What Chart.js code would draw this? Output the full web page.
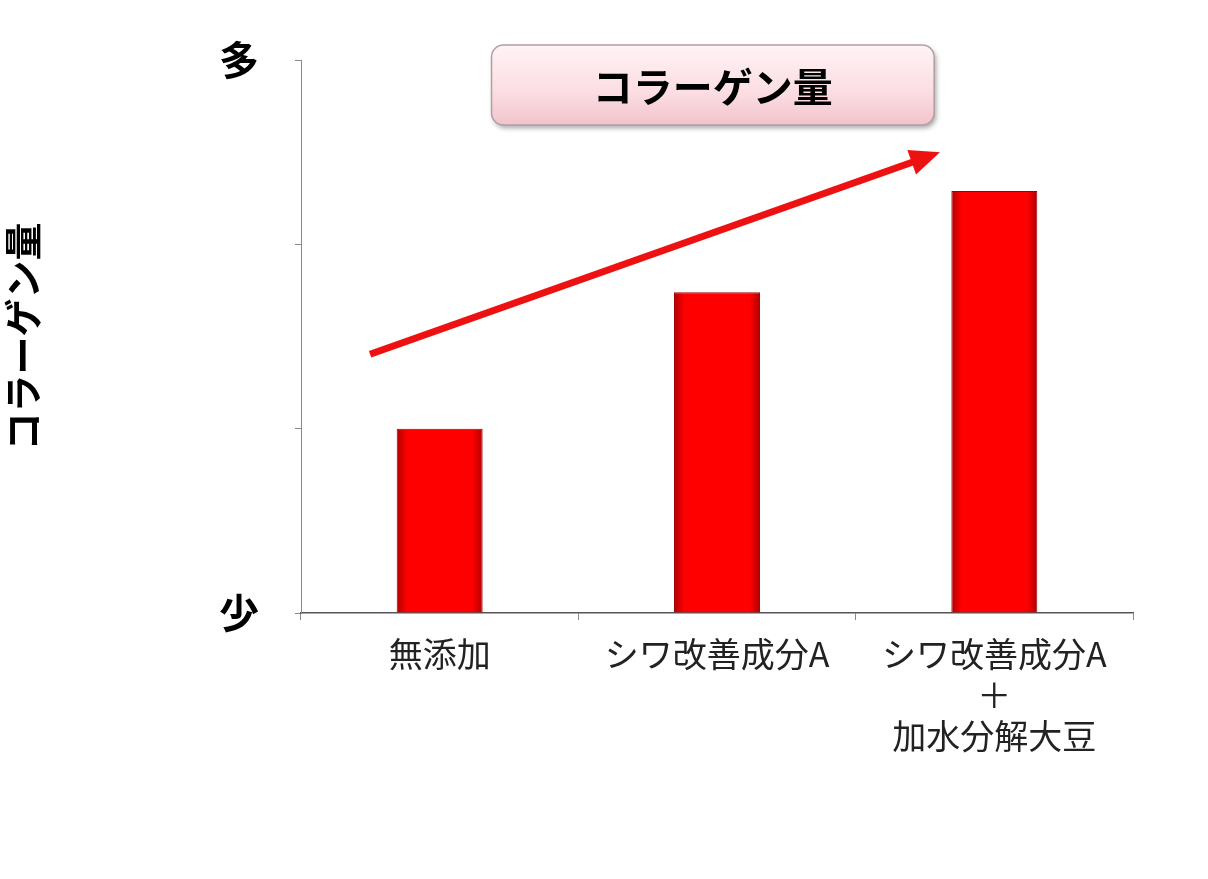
<!DOCTYPE html>
<html><head><meta charset="utf-8">
<script src="https://cdn.jsdelivr.net/npm/chart.js@4"></script>
<style>html,body{margin:0;background:#fff}#c{display:block}</style>
</head><body>
<canvas id="c" width="1208" height="879"></canvas>
<script>
const categories = [['無添加'], ['シワ改善成分A'], ['シワ改善成分A', '＋', '加水分解大豆']];
const collagen = [1.0, 1.74, 2.29];
const yTickLabels = { 0: '少', 3: '多' };
const titleText = 'コラーゲン量';
const axisTitle = 'コラーゲン量';
const JP = '"Noto Sans CJK JP", "Noto Sans", sans-serif';

const decor = {
  id: 'decor',
  afterDraw(chart) {
    const ctx = chart.ctx, a = chart.chartArea;
    const w = a.right - a.left, h = a.bottom - a.top;
    // arrow
    const x1 = a.left + w * 0.083, y1 = a.top + h * 0.532;
    const x2 = a.left + w * 0.768, y2 = a.top + h * 0.167;
    const ang = Math.atan2(y2 - y1, x2 - x1);
    ctx.save();
    ctx.strokeStyle = '#ee1111'; ctx.fillStyle = '#ee1111'; ctx.lineWidth = 7;
    ctx.beginPath(); ctx.moveTo(x1, y1);
    ctx.lineTo(x2 - 22 * Math.cos(ang), y2 - 22 * Math.sin(ang)); ctx.stroke();
    ctx.beginPath(); ctx.moveTo(x2, y2);
    ctx.lineTo(x2 - 30 * Math.cos(ang) + 13 * Math.sin(ang), y2 - 30 * Math.sin(ang) - 13 * Math.cos(ang));
    ctx.lineTo(x2 - 30 * Math.cos(ang) - 13 * Math.sin(ang), y2 - 30 * Math.sin(ang) + 13 * Math.cos(ang));
    ctx.closePath(); ctx.fill();
    // title box
    const bx = a.left + w * 0.229, by = a.top - 15, bw = w * 0.532, bh = 80;
    ctx.shadowColor = 'rgba(0,0,0,0.35)'; ctx.shadowBlur = 5; ctx.shadowOffsetX = 2; ctx.shadowOffsetY = 3;
    const g = ctx.createLinearGradient(0, by, 0, by + bh);
    g.addColorStop(0, '#fff3f5'); g.addColorStop(0.6, '#fbdde2'); g.addColorStop(1, '#f2c3cb');
    ctx.fillStyle = g; ctx.strokeStyle = '#b0a0a3'; ctx.lineWidth = 1.5;
    ctx.beginPath(); ctx.roundRect(bx, by, bw, bh, 12); ctx.fill();
    ctx.shadowColor = 'transparent'; ctx.stroke();
    ctx.fillStyle = '#000'; ctx.font = 'bold 40px ' + JP;
    ctx.textAlign = 'center'; ctx.textBaseline = 'middle';
    ctx.fillText(titleText, bx + bw / 2, by + bh / 2 + 2);
    ctx.restore();
  }
};

function barFill(c) {
  const ch = c.chart, xs = ch.scales && ch.scales.x;
  if (!xs || !ch.chartArea) return '#ff0000';
  const cx = xs.getPixelForValue(c.dataIndex);
  const half = (xs.width / categories.length) * 0.31 / 2;
  if (!Number.isFinite(cx) || !Number.isFinite(half)) return '#ff0000';
  const g = ch.ctx.createLinearGradient(cx - half, 0, cx + half, 0);
  g.addColorStop(0, '#b00000'); g.addColorStop(0.12, '#ff0000'); g.addColorStop(0.88, '#ff0000'); g.addColorStop(1, '#b00000');
  return g;
}

new Chart(document.getElementById('c'), {
  type: 'bar',
  plugins: [decor],
  data: { labels: categories, datasets: [{ data: collagen, backgroundColor: barFill, borderColor: '#a00000', borderWidth: 1, categoryPercentage: 0.31, barPercentage: 1 }] },
  options: {
    responsive: false, animation: false,
    layout: { padding: { top: 57, right: 75, left: 0, bottom: 0 } },
    plugins: { legend: { display: false }, tooltip: { enabled: false } },
    scales: {
      x: {
        afterFit(s) { s.height = 266; },
        grid: { drawOnChartArea: false, tickLength: 7, color: '#888' },
        border: { color: '#555', width: 1.5 },
        ticks: { color: '#222', font: { family: JP, size: 34 }, padding: 14, maxRotation: 0 }
      },
      y: {
        min: 0, max: 3,
        afterFit(s) { s.width = 301; },
        grid: { drawOnChartArea: false, tickLength: 6, color: '#888' },
        border: { color: '#888' },
        ticks: { stepSize: 1, color: '#000', padding: 36, font: { family: JP, size: 40, weight: 'bold' }, callback: v => yTickLabels[v] || '' },
        title: { display: true, text: axisTitle, color: '#000', font: { family: JP, size: 38, weight: 'bold' }, padding: { top: 0, bottom: 0 } }
      }
    }
  }
});
</script>
</body></html>
